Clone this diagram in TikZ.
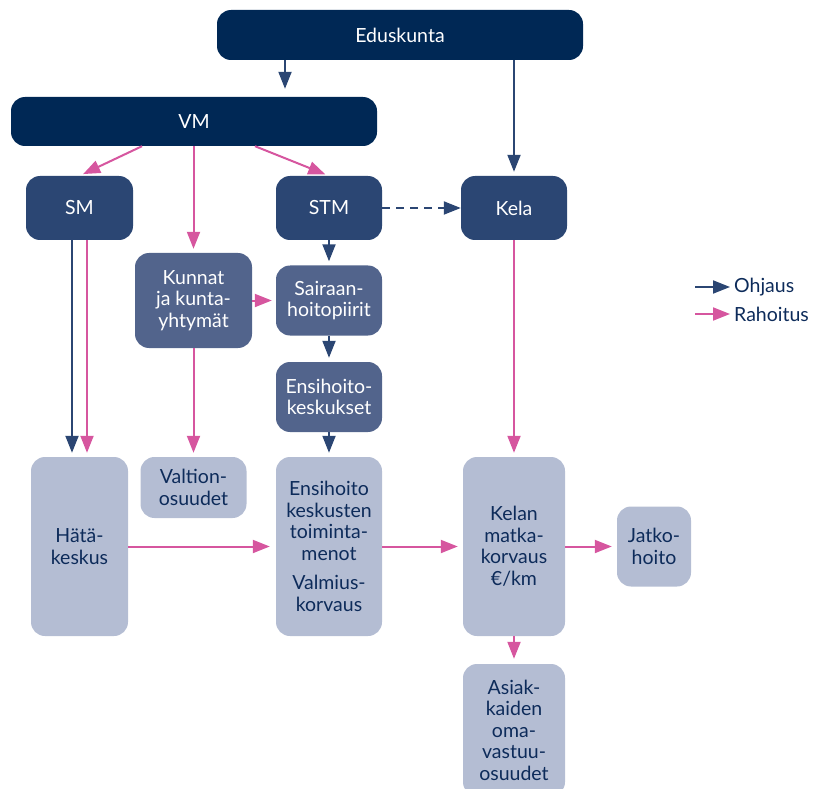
\documentclass[tikz,border=0pt]{standalone}
\usepackage{fontspec}
\setmainfont{Lato}
\usetikzlibrary{arrows.meta, positioning}
\definecolor{navy}{HTML}{002855}
\definecolor{mid}{HTML}{2B4673}
\definecolor{slate}{HTML}{52648C}
\definecolor{pale}{HTML}{B4BDD3}
\definecolor{pinkish}{HTML}{D6569F}
\definecolor{inkblue}{HTML}{0D2B5A}

\begin{document}
\begin{tikzpicture}[x=1pt, y=-1pt,
    box/.style={rounded corners=14pt, align=center, inner sep=0pt,
      font=\fontsize{19.5}{21.5}\selectfont},
    topbox/.style={box, fill=navy, text=white},
    midbox/.style={box, fill=mid, text=white},
    subbox/.style={box, fill=slate, text=white},
    palebox/.style={box, fill=pale, text=inkblue},
    ctl/.style={draw=mid, line width=2pt, -{Triangle[length=17pt, width=13pt]}, shorten >=4pt},
    fund/.style={ctl, draw=pinkish},
  ]
    \useasboundingbox (0,0) rectangle (815,789);
    \clip (0,0) rectangle (815,789);

    % ministries
    \node[topbox, minimum width=366pt, minimum height=50pt] (edus) at (400,35) {Eduskunta};
    \node[topbox, minimum width=366pt, minimum height=49pt] (vm) at (194,121.5) {VM};
    \node[midbox, minimum width=107pt, minimum height=64pt] (sm) at (79.5,208) {SM};
    \node[midbox, minimum width=106pt, minimum height=64pt] (stm) at (329,208) {STM};
    \node[midbox, minimum width=106pt, minimum height=64pt] (kela) at (514,208) {Kela};

    % organisers
    \node[subbox, minimum width=117pt, minimum height=95pt] (kunnat) at (193.5,300.5) {Kunnat\\ja kunta-\\yhtymät};
    \node[subbox, minimum width=106pt, minimum height=70pt] (sair) at (329,300.5) {Sairaan-\\hoitopiirit};
    \node[subbox, minimum width=106pt, minimum height=70pt] (ensk) at (329,397) {Ensihoito-\\keskukset};

    % costs
    \node[palebox, minimum width=97pt, minimum height=179pt] (hata) at (79.5,546.5) {Hätä-\\keskus};
    \node[palebox, minimum width=106pt, minimum height=61pt] (valtion) at (193.5,487.5) {Valtion-\\osuudet};
    \node[palebox, minimum width=106pt, minimum height=179pt] (toim) at (329,546.5)
      {Ensihoito\\keskusten\\toiminta-\\menot\\[8pt]Valmius-\\korvaus};
    \node[palebox, minimum width=102pt, minimum height=179pt] (matka) at (514,546.5) {Kelan\\matka-\\korvaus\\€/km};
    \node[palebox, minimum width=74pt, minimum height=80pt] (jatko) at (654,546.5) {Jatko-\\hoito};
    \node[palebox, minimum width=102pt, minimum height=132pt] (asiak) at (514,730)
      {Asiak-\\kaiden\\oma-\\vastuu-\\osuudet};

    % ohjaus
    \draw[ctl, shorten >=8pt] (edus.south -| 285,0) -- (vm.north -| 285,0);
    \draw[ctl] (edus.south -| kela.north) -- (kela.north);
    \draw[ctl, dashed, dash pattern=on 8pt off 6pt, shorten >=0pt] (stm.east) -- (kela.west);
    \draw[ctl] ([xshift=-7.5pt]sm.south) -- ([xshift=-7.5pt]hata.north);
    \draw[ctl] (stm.south) -- (sair.north);
    \draw[ctl] (sair.south) -- (ensk.north);
    \draw[ctl] (ensk.south) -- (toim.north);

    % rahoitus
    \draw[fund] (vm.south -| 142,0) -- (sm.north);
    \draw[fund] (vm.south -| 255,0) -- (stm.north);
    \draw[fund] (vm.south -| kunnat.north) -- (kunnat.north);
    \draw[fund] ([xshift=7.5pt]sm.south) -- ([xshift=7.5pt]hata.north);
    \draw[fund] (kunnat.east |- sair.west) -- (sair.west);
    \draw[fund] (kunnat.south) -- (valtion.north);
    \draw[fund] (kela.south) -- (matka.north);
    \draw[fund, shorten >=6pt] (hata.east) -- (toim.west);
    \draw[fund, shorten >=5pt] (toim.east) -- (matka.west);
    \draw[fund, shorten >=5pt] (matka.east) -- (jatko.west);
    \draw[fund, shorten >=5pt] (matka.south) -- (asiak.north);

    % legend
    \node[anchor=west, inner sep=0pt, text=inkblue, font=\fontsize{19.5}{21.5}\selectfont] (ohj) at (734,287) {Ohjaus};
    \node[anchor=west, inner sep=0pt, text=inkblue, font=\fontsize{19.5}{21.5}\selectfont] (rah) at (734,314) {Rahoitus};
    \coordinate (lgo) at (695,287);
    \coordinate (lgr) at (695,314);
    \draw[ctl] (lgo) -- (ohj.west);
    \draw[fund] (lgr) -- (rah.west);
  \end{tikzpicture}
\end{document}
